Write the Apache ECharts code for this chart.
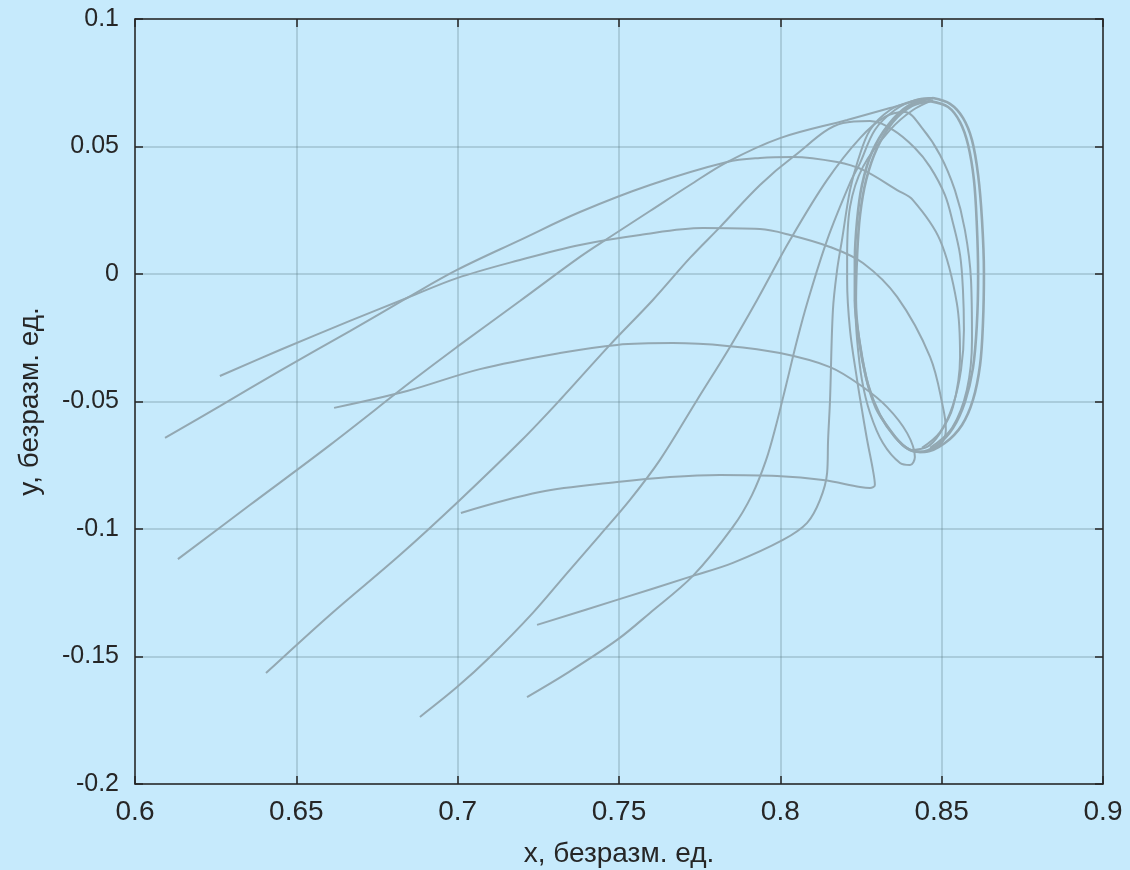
<!DOCTYPE html>
<html>
<head>
<meta charset="utf-8">
<title>Фазовый портрет</title>
<script src="https://cdn.jsdelivr.net/npm/echarts@6/dist/echarts.min.js"></script>
<style>
    html, body { margin: 0; padding: 0; background: #c6eafc; }
    #chart { width: 1130px; height: 870px; }
</style>
</head>
<body>
<div id="chart"></div>
<script>
// оси
var xTicks = [0.6, 0.65, 0.7, 0.75, 0.8, 0.85, 0.9];
var yTicks = [-0.2, -0.15, -0.1, -0.05, 0, 0.05, 0.1];

// траектории [x, y]
var trajA = [[0.6263,-0.0400],[0.6449,-0.0298],[0.6666,-0.0184],[0.6843,-0.0094],[0.6998,-0.0016],[0.7193,0.0055],
    [0.7379,0.0114],[0.7565,0.0153],[0.7760,0.0180],[0.7937,0.0176],[0.8030,0.0153],[0.8154,0.0106],[0.8256,0.0043],
    [0.8362,-0.0090],[0.8464,-0.0325],[0.8504,-0.0522],[0.8513,-0.0612],[0.8495,-0.0671],[0.8448,-0.0698]];
var trajB = [[0.6093,-0.0643],[0.6263,-0.0518],[0.6449,-0.0380],[0.6666,-0.0224],[0.6843,-0.0094],[0.6998,0.0016],
    [0.7193,0.0133],[0.7379,0.0243],[0.7596,0.0349],[0.7835,0.0439],[0.7937,0.0455],[0.8039,0.0459],[0.8176,0.0439],
    [0.8256,0.0408],[0.8362,0.0329],[0.8411,0.0290],[0.8495,0.0133],[0.8547,-0.0114],[0.8557,-0.0325],[0.8535,-0.0522],
    [0.8495,-0.0624],[0.8455,-0.0678],[0.8402,-0.0690]];
var trajC = [[0.6133,-0.1118],[0.6356,-0.0906],[0.6604,-0.0671],[0.6862,-0.0416],[0.6998,-0.0286],[0.7193,-0.0106],
    [0.7379,0.0067],[0.7472,0.0145],[0.7596,0.0247],[0.7720,0.0349],[0.7835,0.0439],[0.7999,0.0533],[0.8207,0.0604],
    [0.8340,0.0651],[0.8411,0.0675],[0.8473,0.0690]];
var trajD = [[0.6406,-0.1565],[0.6604,-0.1337],[0.6821,-0.1102],[0.7007,-0.0886],[0.7199,-0.0651],[0.7317,-0.0494],
    [0.7472,-0.0278],[0.7605,-0.0102],[0.7720,0.0063],[0.7813,0.0184],[0.7937,0.0349],[0.8039,0.0459],[0.8194,0.0592],
    [0.8278,0.0600],[0.8349,0.0565],[0.8417,0.0494],[0.8464,0.0420],[0.8510,0.0310],[0.8535,0.0200],[0.8557,0.0075],
    [0.8566,-0.0063],[0.8569,-0.0220],[0.8560,-0.0376],[0.8535,-0.0514],[0.8495,-0.0620],[0.8439,-0.0682]];
var trajE = [[0.6883,-0.1737],[0.6998,-0.1620],[0.7100,-0.1502],[0.7233,-0.1329],[0.7339,-0.1173],[0.7441,-0.1024],
    [0.7534,-0.0886],[0.7627,-0.0729],[0.7742,-0.0494],[0.7844,-0.0286],[0.7928,-0.0102],[0.8030,0.0133],[0.8145,0.0369],
    [0.8247,0.0533],[0.8324,0.0616],[0.8386,0.0635],[0.8439,0.0573],[0.8495,0.0467],[0.8541,0.0329],[0.8572,0.0173],
    [0.8591,-0.0024],[0.8594,-0.0259],[0.8578,-0.0455],[0.8532,-0.0604],[0.8464,-0.0682]];
var trajF = [[0.7215,-0.1659],[0.7339,-0.1565],[0.7494,-0.1435],[0.7596,-0.1329],[0.7729,-0.1184],[0.7853,-0.0992],
    [0.7912,-0.0867],[0.7956,-0.0729],[0.7987,-0.0592],[0.8018,-0.0435],[0.8052,-0.0259],[0.8086,-0.0102],[0.8145,0.0133],
    [0.8216,0.0357],[0.8247,0.0435],[0.8293,0.0565],[0.8355,0.0643],[0.8417,0.0682],[0.8473,0.0690]];
var trajG = [[0.7246,-0.1376],[0.7494,-0.1278],[0.7729,-0.1184],[0.7853,-0.1133],[0.8008,-0.1043],[0.8083,-0.0976],
    [0.8123,-0.0886],[0.8145,-0.0780],[0.8148,-0.0651],[0.8154,-0.0494],[0.8163,-0.0141],[0.8176,0.0016],[0.8191,0.0133],
    [0.8216,0.0329],[0.8241,0.0447],[0.8278,0.0565],[0.8340,0.0643],[0.8408,0.0678],[0.8473,0.0690]];
var trajH = [[0.7010,-0.0937],[0.7255,-0.0855],[0.7494,-0.0816],[0.7658,-0.0796],[0.7813,-0.0788],[0.7990,-0.0792],
    [0.8132,-0.0808],[0.8247,-0.0835],[0.8278,-0.0839],[0.8293,-0.0827],[0.8287,-0.0769],[0.8269,-0.0651],[0.8253,-0.0533],
    [0.8238,-0.0416],[0.8216,-0.0220],[0.8207,-0.0024],[0.8207,0.0067],[0.8216,0.0263],[0.8256,0.0420],[0.8340,0.0565],
    [0.8411,0.0643],[0.8473,0.0682]];
var trajI = [[0.6617,-0.0525],[0.6843,-0.0459],[0.7069,-0.0373],[0.7317,-0.0310],[0.7494,-0.0278],[0.7667,-0.0271],
    [0.7835,-0.0282],[0.7999,-0.0310],[0.8154,-0.0365],[0.8256,-0.0443],[0.8331,-0.0522],[0.8393,-0.0624],[0.8417,-0.0718],
    [0.8402,-0.0749],[0.8371,-0.0741],[0.8318,-0.0663],[0.8278,-0.0545],[0.8253,-0.0416],[0.8238,-0.0259],[0.8231,-0.0102]];

// предельный цикл, два витка
var cycle1 = [[0.8473,0.0690],[0.8526,0.0667],[0.8566,0.0612],[0.8594,0.0525],[0.8613,0.0388],[0.8625,0.0212],
    [0.8631,0.0004],[0.8628,-0.0192],[0.8619,-0.0357],[0.8597,-0.0494],[0.8563,-0.0592],[0.8510,-0.0663],[0.8448,-0.0698],
    [0.8402,-0.0690],[0.8355,-0.0639],[0.8309,-0.0553],[0.8272,-0.0435],[0.8247,-0.0278],[0.8231,-0.0102],[0.8231,0.0055],
    [0.8238,0.0212],[0.8253,0.0349],[0.8284,0.0478],[0.8334,0.0584],[0.8396,0.0659],[0.8473,0.0690]];
var cycle2 = [[0.8464,0.0678],[0.8520,0.0655],[0.8557,0.0596],[0.8582,0.0506],[0.8600,0.0369],[0.8609,0.0192],
    [0.8613,-0.0004],[0.8609,-0.0200],[0.8597,-0.0369],[0.8572,-0.0502],[0.8535,-0.0604],[0.8486,-0.0671],[0.8433,-0.0698],
    [0.8386,-0.0678],[0.8340,-0.0612],[0.8296,-0.0525],[0.8266,-0.0408],[0.8244,-0.0259],[0.8234,-0.0102],[0.8238,0.0075],
    [0.8247,0.0231],[0.8266,0.0369],[0.8300,0.0494],[0.8349,0.0596],[0.8408,0.0659],[0.8464,0.0678]];

var trajectories = [trajA, trajB, trajC, trajD, trajE, trajF, trajG, trajH, trajI];
var cycles = [cycle1, cycle2];

var lineColor = '#93a8b2';
var axisColor = '#262626';
var gridColor = 'rgba(90,120,130,0.35)';
var labelFont = 'Liberation Sans, Arial, sans-serif';

var chart = echarts.init(document.getElementById('chart'));

function lineSeries(d, w) {
    return {
        type: 'line',
        data: d,
        xAxisIndex: 0,
        yAxisIndex: 0,
        showSymbol: false,
        smooth: 0.35,
        silent: true,
        lineStyle: { color: lineColor, width: w }
    };
}
var series = trajectories.map(function (d) { return lineSeries(d, 2); })
    .concat(cycles.map(function (d) { return lineSeries(d, 2.6); }));

function sideAxis(pos, ticks) {
    return {
        type: 'value',
        position: pos,
        min: ticks[0],
        max: ticks[ticks.length - 1],
        interval: 0.05,
        axisLine: { show: true, onZero: false, lineStyle: { color: axisColor, width: 1.5 } },
        axisTick: { show: true, inside: true, length: 8, lineStyle: { color: axisColor, width: 1.5 } },
        axisLabel: { show: false },
        splitLine: { show: false }
    };
}

chart.setOption({
    backgroundColor: '#c6eafc',
    animation: false,
    grid: {
        left: 135, right: 27, top: 19, bottom: 86,
        containLabel: false, outerBoundsMode: 'none',
        show: true, backgroundColor: '#c6eafc', borderWidth: 0
    },
    xAxis: [
        {
            type: 'value',
            position: 'bottom',
            min: xTicks[0],
            max: xTicks[xTicks.length - 1],
            interval: 0.05,
            name: 'x, безразм. ед.',
            nameLocation: 'middle',
            nameGap: 56,
            nameTextStyle: { color: axisColor, fontSize: 28, fontFamily: labelFont },
            axisLine: { show: true, onZero: false, lineStyle: { color: axisColor, width: 1.5 } },
            axisTick: { show: true, inside: true, length: 8, lineStyle: { color: axisColor, width: 1.5 } },
            axisLabel: { color: axisColor, fontSize: 28, margin: 14, fontFamily: labelFont },
            splitLine: { show: true, lineStyle: { color: gridColor, width: 1.5 } }
        },
        sideAxis('top', xTicks)
    ],
    yAxis: [
        {
            type: 'value',
            position: 'left',
            min: yTicks[0],
            max: yTicks[yTicks.length - 1],
            interval: 0.05,
            name: 'y, безразм. ед.',
            nameLocation: 'middle',
            nameGap: 91,
            nameTextStyle: { color: axisColor, fontSize: 28, fontFamily: labelFont },
            axisLine: { show: true, onZero: false, lineStyle: { color: axisColor, width: 1.5 } },
            axisTick: { show: true, inside: true, length: 8, lineStyle: { color: axisColor, width: 1.5 } },
            axisLabel: { color: axisColor, fontSize: 25, margin: 16, fontFamily: labelFont },
            splitLine: { show: true, lineStyle: { color: gridColor, width: 1.5 } }
        },
        sideAxis('right', yTicks)
    ],
    series: series
});
</script>
</body>
</html>
